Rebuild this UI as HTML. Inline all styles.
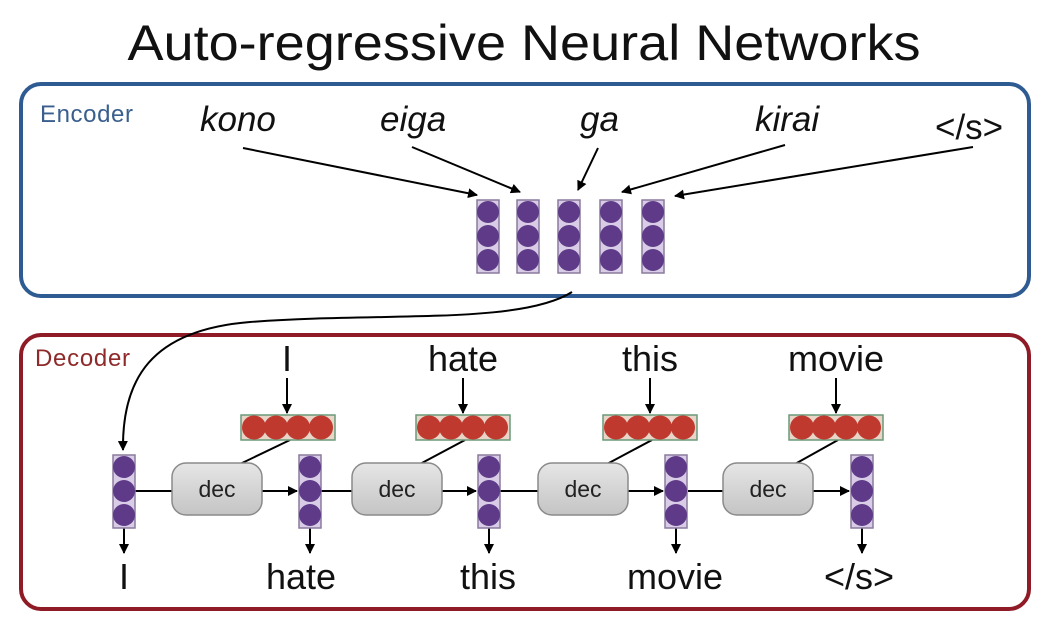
<!DOCTYPE html>
<html><head><meta charset="utf-8"><style>
html,body{margin:0;padding:0;background:#fff;}
svg{display:block;font-family:"Liberation Sans",sans-serif;}
</style></head><body>
<svg width="1049" height="639" viewBox="0 0 1049 639" xmlns="http://www.w3.org/2000/svg">
<defs>
<marker id="ah" markerWidth="10" markerHeight="10" refX="9" refY="5" orient="auto" markerUnits="userSpaceOnUse">
<path d="M0,0 L10,5 L0,10 z" fill="#000"/></marker>
<linearGradient id="dg" x1="0" y1="0" x2="0" y2="1"><stop offset="0" stop-color="#e6e6e6"/><stop offset="1" stop-color="#c4c4c4"/></linearGradient>
<g id="pc"><rect x="0" y="0" width="22" height="73" fill="#d8cce6" stroke="#8a7a9e" stroke-width="1.5"/>
<circle cx="11" cy="12" r="11" fill="#5e3a88"/><circle cx="11" cy="36" r="11" fill="#5e3a88"/><circle cx="11" cy="60" r="11" fill="#5e3a88"/></g>
<g id="rr"><rect x="0" y="0" width="94" height="25" fill="#e8d5c8" stroke="#6a9a78" stroke-width="1.5"/>
<circle cx="13" cy="12.5" r="12" fill="#c0392f"/><circle cx="35" cy="12.5" r="12" fill="#c0392f"/><circle cx="57" cy="12.5" r="12" fill="#c0392f"/><circle cx="80" cy="12.5" r="12" fill="#c0392f"/></g>
<g id="dec"><rect x="0" y="0" width="90" height="52" rx="14" fill="url(#dg)" stroke="#8a8a8a" stroke-width="1.5"/>
<text x="45" y="34" font-size="23" text-anchor="middle" fill="#222">dec</text></g>
</defs>
<text x="524" y="60" font-size="50" text-anchor="middle" textLength="793" lengthAdjust="spacingAndGlyphs" fill="#111">Auto-regressive Neural Networks</text>
<rect x="21" y="84" width="1008" height="212" rx="20" fill="none" stroke="#2e5b92" stroke-width="4"/>
<rect x="21" y="335" width="1008" height="274" rx="20" fill="none" stroke="#8e1b26" stroke-width="4"/>
<text x="40" y="122" font-size="24" textLength="93" fill="#3a5f8e">Encoder</text>
<text x="35" y="366" font-size="24" textLength="95" fill="#8e2a2a">Decoder</text>
<g font-size="35" font-style="italic" fill="#111">
<text x="200" y="131">kono</text><text x="380" y="131">eiga</text><text x="580" y="131">ga</text><text x="755" y="131">kirai</text></g>
<text x="935" y="139" font-size="35" fill="#111">&lt;/s&gt;</text>
<g stroke="#000" stroke-width="2" marker-end="url(#ah)">
<line x1="243" y1="148" x2="477" y2="195"/><line x1="412" y1="147" x2="520" y2="192"/>
<line x1="598" y1="148" x2="578" y2="190"/><line x1="785" y1="145" x2="622" y2="192"/>
<line x1="973" y1="147" x2="675" y2="196"/></g>
<use href="#pc" x="477" y="200"/><use href="#pc" x="517" y="200"/><use href="#pc" x="558" y="200"/><use href="#pc" x="600" y="200"/><use href="#pc" x="642" y="200"/>
<path d="M572,292 C520,325 380,312 250,322 C150,330 122,380 123,450" fill="none" stroke="#000" stroke-width="2" marker-end="url(#ah)"/>
<g font-size="36" fill="#111" text-anchor="middle">
<text x="287" y="371">I</text><text x="463" y="371">hate</text><text x="650" y="371">this</text><text x="836" y="371">movie</text>
<text x="124" y="589">I</text><text x="301" y="589">hate</text><text x="488" y="589">this</text><text x="675" y="589">movie</text><text x="859" y="589">&lt;/s&gt;</text></g>
<g stroke="#000" stroke-width="2">
<line x1="135" y1="491" x2="172" y2="491"/><line x1="321" y1="491" x2="352" y2="491"/><line x1="500" y1="491" x2="538" y2="491"/><line x1="688" y1="491" x2="723" y2="491"/>
<line x1="290" y1="440" x2="240" y2="464"/><line x1="465" y1="440" x2="420" y2="464"/><line x1="652" y1="440" x2="607" y2="464"/><line x1="838" y1="440" x2="795" y2="464"/>
</g>
<g stroke="#000" stroke-width="2" marker-end="url(#ah)">
<line x1="262" y1="491" x2="297" y2="491"/><line x1="442" y1="491" x2="476" y2="491"/><line x1="628" y1="491" x2="663" y2="491"/><line x1="813" y1="491" x2="849" y2="491"/>
<line x1="287" y1="378" x2="287" y2="413"/><line x1="463" y1="378" x2="463" y2="413"/><line x1="650" y1="378" x2="650" y2="413"/><line x1="836" y1="378" x2="836" y2="413"/>
<line x1="124" y1="528" x2="124" y2="553"/><line x1="310" y1="528" x2="310" y2="553"/><line x1="489" y1="528" x2="489" y2="553"/><line x1="676" y1="528" x2="676" y2="553"/><line x1="862" y1="528" x2="862" y2="553"/>
</g>
<use href="#rr" x="241" y="415"/><use href="#rr" x="416" y="415"/><use href="#rr" x="603" y="415"/><use href="#rr" x="789" y="415"/>
<use href="#dec" x="172" y="463"/><use href="#dec" x="352" y="463"/><use href="#dec" x="538" y="463"/><use href="#dec" x="723" y="463"/>
<use href="#pc" x="113" y="455"/><use href="#pc" x="299" y="455"/><use href="#pc" x="478" y="455"/><use href="#pc" x="665" y="455"/><use href="#pc" x="851" y="455"/>
</svg>
</body></html>
